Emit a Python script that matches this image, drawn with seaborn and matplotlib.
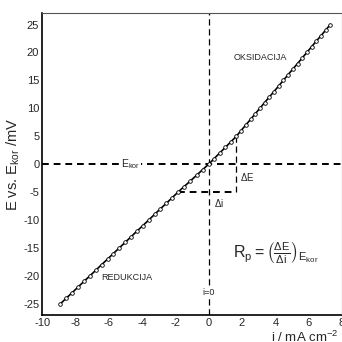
import matplotlib
matplotlib.use('Agg')
import matplotlib.pyplot as plt
import seaborn as sns
import pandas as pd

# polarisation curve (E in mV, i in mA cm^-2)
potential = list(range(-25, 26))
current = [
    -8.90, -8.55, -8.19, -7.84, -7.49, -7.13, -6.78, -6.43, -6.07, -5.72,
    -5.37, -5.01, -4.66, -4.31, -3.95, -3.60, -3.25, -2.90, -2.54, -2.19,
    -1.84, -1.47, -1.10, -0.73, -0.37, 0.00, 0.33, 0.66, 1.00, 1.33,
    1.66, 1.94, 2.22, 2.51, 2.79, 3.07, 3.35, 3.63, 3.92, 4.20,
    4.48, 4.76, 5.04, 5.33, 5.61, 5.89, 6.17, 6.45, 6.74, 7.02, 7.30,
]
x_ticks = [-10, -8, -6, -4, -2, 0, 2, 4, 6, 8]
y_ticks = [-25, -20, -15, -10, -5, 0, 5, 10, 15, 20, 25]
delta_E = 5
delta_i_lo, delta_i_hi = -1.84, 1.66

sns.set_style('white')
plt.rcParams['font.family'] = ['Liberation Sans', 'DejaVu Sans']
plt.rcParams['mathtext.fontset'] = 'custom'
plt.rcParams['mathtext.rm'] = 'Liberation Sans'
plt.rcParams['mathtext.it'] = 'Liberation Sans'
plt.rcParams['mathtext.default'] = 'regular'
plt.rcParams['axes.unicode_minus'] = False

df = pd.DataFrame({'i': current, 'E': potential})

fig = plt.figure(figsize=(3.42, 3.42), dpi=100)
ax = fig.add_axes([0.123, 0.079, 0.877, 0.882])

# reference lines
ax.axhline(0, color='black', lw=1.4, ls=(0, (3.5, 2.5)), zorder=1)
ax.axvline(0, color='black', lw=0.9, ls=(0, (5, 3)), zorder=1)
ax.plot([delta_i_hi, delta_i_hi], [delta_E, -delta_E], color='black', lw=0.9, ls=(0, (5, 3)))
ax.plot([delta_i_lo, delta_i_hi], [-delta_E, -delta_E], color='black', lw=1.4, ls=(0, (3.5, 2.5)))

sns.lineplot(data=df, x='i', y='E', ax=ax, color='black', lw=1.2, sort=False,
             marker='o', markersize=2.6, markerfacecolor='white',
             markeredgecolor='black', markeredgewidth=0.6, zorder=3)

ax.set_xlim(-10, 8)
ax.set_ylim(-27, 27)
ax.set_xticks(x_ticks)
ax.set_yticks(y_ticks)
ax.tick_params(direction='in', length=3, width=1, labelsize=8, pad=2)
ax.set_xlabel('')
ax.set_ylabel(r'E vs. E$_{kor}$ /mV', fontsize=10.5, labelpad=1)

for side in ['left', 'bottom']:
    ax.spines[side].set_color('black')
    ax.spines[side].set_linewidth(1.2)
for side in ['top', 'right']:
    ax.spines[side].set_color('#555555')
    ax.spines[side].set_linewidth(0.8)

box = dict(facecolor='white', edgecolor='none', pad=1)
ax.text(-4.7, 0, r'E$_{kor}$', fontsize=7.5, ha='center', va='center', bbox=box)
ax.text(0, -23, 'i=0', fontsize=6.5, ha='center', va='center', bbox=box)
ax.text(3.1, 19.1, 'OKSIDACIJA', fontsize=6.5, ha='center', va='center')
ax.text(-4.9, -20.3, 'REDUKCIJA', fontsize=6.5, ha='center', va='center')
ax.text(2.3, -2.3, r'$\Delta$E', fontsize=7, ha='center', va='center')
ax.text(0.6, -6.9, r'$\Delta$i', fontsize=7, ha='center', va='center')
ax.text(4.0, -16, r'$R_p = \left(\frac{\Delta E}{\Delta i}\right)_{E_{kor}}$',
        fontsize=11.5, ha='center', va='center')

fig.text(271 / 342, 1 - 342 / 342, r'i / mA cm$^{-2}$', fontsize=9.5, ha='left', va='baseline')

fig.savefig('out.png', dpi=100)
